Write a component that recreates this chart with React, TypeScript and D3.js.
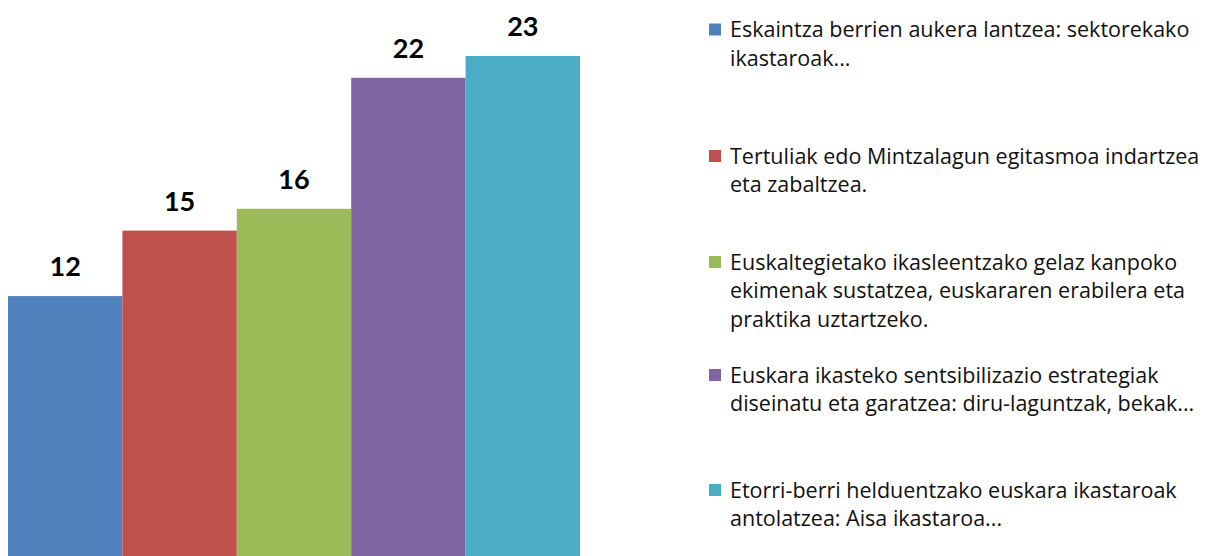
import React from "react";
import * as d3 from "d3";

const categories = [
  "Eskaintza berrien aukera lantzea: sektorekako ikastaroak...",
  "Tertuliak edo Mintzalagun egitasmoa indartzea eta zabaltzea.",
  "Euskaltegietako ikasleentzako gelaz kanpoko ekimenak sustatzea, euskararen erabilera eta praktika uztartzeko.",
  "Euskara ikasteko sentsibilizazio estrategiak diseinatu eta garatzea: diru-laguntzak, bekak...",
  "Etorri-berri helduentzako euskara ikastaroak antolatzea: Aisa ikastaroa...",
];
const values = [12, 15, 16, 22, 23];
const legendLines = [
  ["Eskaintza berrien aukera lantzea: sektorekako", "ikastaroak..."],
  ["Tertuliak edo Mintzalagun egitasmoa indartzea", "eta zabaltzea."],
  ["Euskaltegietako ikasleentzako gelaz kanpoko", "ekimenak sustatzea, euskararen erabilera eta", "praktika uztartzeko."],
  ["Euskara ikasteko sentsibilizazio estrategiak", "diseinatu eta garatzea: diru-laguntzak, bekak..."],
  ["Etorri-berri helduentzako euskara ikastaroak", "antolatzea: Aisa ikastaroa..."],
];
const colors = ["#4F81BD", "#C0504D", "#9BBB59", "#8064A2", "#4BACC6"];

// layout: vertical center of first line of each legend entry
const LEGEND_FIRST_LINE = [29.5, 156, 262, 375, 490];

const W = 1211;
const H = 556;

export default function App() {
  const x = d3.scaleBand<string>().domain(categories).range([8, 580]).padding(0);
  const y = d3.scaleLinear().domain([0, 23]).range([558, 56]);

  const legendX = 709;
  const lineH = 28.5;
  const sq = 12;

  return (
    <div style={{ position: "absolute", left: 0, top: 0 }}>
      <svg width={W} height={H} style={{ display: "block", background: "#fff" }}>
        {categories.map((c, i) => (
          <g key={c}>
            <rect
              x={x(c)!}
              y={y(values[i])}
              width={x.bandwidth()}
              height={y(0) - y(values[i])}
              fill={colors[i]}
            />
            <text
              x={x(c)! + x.bandwidth() / 2}
              y={y(values[i]) - 20}
              textAnchor="middle"
              fontFamily="Lato, 'Open Sans', sans-serif"
              fontWeight="bold"
              fontSize={27}
              fill="#000"
            >
              {values[i]}
            </text>
          </g>
        ))}
        {legendLines.map((lines, i) => {
          const c = LEGEND_FIRST_LINE[i];
          return (
            <g key={i}>
              <rect x={legendX} y={c - sq / 2} width={sq} height={sq} fill={colors[i]} />
              {lines.map((t, j) => (
                <text
                  key={j}
                  x={legendX + 21}
                  y={c + j * lineH + 7.6}
                  fontFamily="'Open Sans', sans-serif"
                  fontSize={21.5}
                  fill="#111"
                >
                  {t}
                </text>
              ))}
            </g>
          );
        })}
      </svg>
    </div>
  );
}
